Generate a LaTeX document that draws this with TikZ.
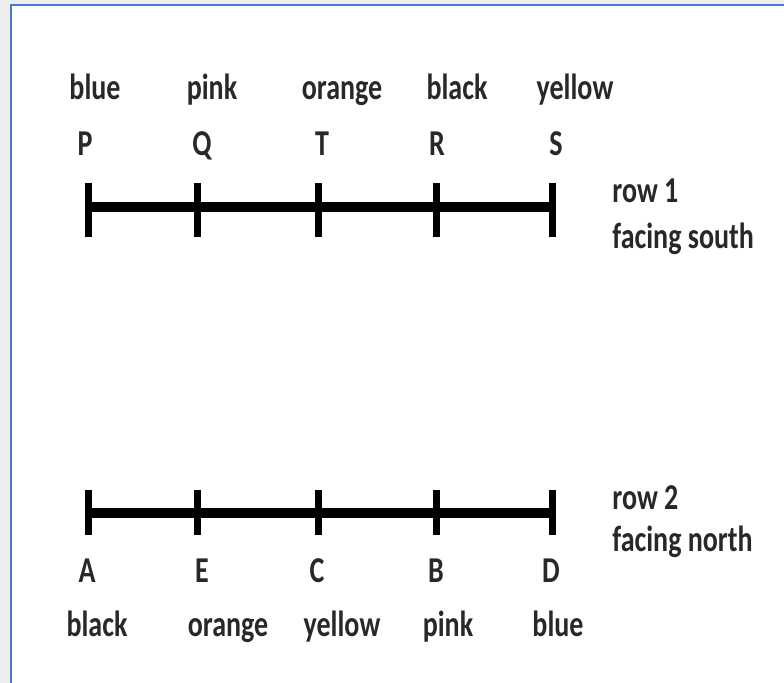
\documentclass[tikz,border=0pt]{standalone}
\usepackage{fontspec}
\setmainfont{Carlito}
\definecolor{framecol}{RGB}{74,123,208}
\definecolor{inkcol}{RGB}{40,40,40}
\newcommand{\tall}[1]{\scalebox{1}[1.3]{#1}}
\tikzset{
    rowline/.style={line width=5pt},
    tickmark/.style={line width=3.5pt},
    lbl/.style={anchor=base,inner sep=0pt,text=inkcol,font=\fontsize{14}{16}\selectfont\bfseries},
    side/.style={lbl,anchor=base west}
}
\begin{document}
\begin{tikzpicture}[x=0.5pt,y=-0.5pt]
        \useasboundingbox (0,0) rectangle (784,683);
        %% Frame
        \fill[black!7] (0,0) rectangle (784,683);
        \fill[white] (11,5) rectangle (784,683);
        \draw[framecol,line width=1pt] (11,683) -- (11,5) -- (784,5);
        %% Seats
        \foreach \x/\i in {88/1,197/2,318/3,436/4,552/5} {
            \coordinate (n\i) at (\x,207);
            \coordinate (s\i) at (\x,513);
            \draw[tickmark] (n\i) ++(0,-24) -- ++(0,54);
            \draw[tickmark] (s\i) ++(0,-23) -- ++(0,45);
        }
        %% Row 1
        \draw[rowline] (n1) -- (n5);
        \node[lbl] (blueP) at (95,100) {\tall{blue}};
        \node[lbl] (pinkQ) at (212,100) {\tall{pink}};
        \node[lbl] (orangeT) at (342,100) {\tall{orange}};
        \node[lbl] (blackR) at (457,100) {\tall{black}};
        \node[lbl] (yellowS) at (575,100) {\tall{yellow}};
        \node[lbl] (P) at (85,156) {\tall{P}};
        \node[lbl] (Q) at (202,156) {\tall{Q}};
        \node[lbl] (T) at (322,156) {\tall{T}};
        \node[lbl] (R) at (437,156) {\tall{R}};
        \node[lbl] (S) at (556,156) {\tall{S}};
        \node[side] (row1) at (612,203) {\tall{row 1}};
        \node[side] (south) at (612,249) {\tall{facing south}};
        %% Row 2
        \draw[rowline] (s1) -- (s5);
        \node[lbl] (A) at (87,583) {\tall{A}};
        \node[lbl] (E) at (202,583) {\tall{E}};
        \node[lbl] (C) at (317,583) {\tall{C}};
        \node[lbl] (B) at (436,583) {\tall{B}};
        \node[lbl] (D) at (551,583) {\tall{D}};
        \node[lbl] (blackA) at (97,637) {\tall{black}};
        \node[lbl] (orangeE) at (228,637) {\tall{orange}};
        \node[lbl] (yellowC) at (342,637) {\tall{yellow}};
        \node[lbl] (pinkB) at (448,637) {\tall{pink}};
        \node[lbl] (blueD) at (558,637) {\tall{blue}};
        \node[side] (row2) at (612,510) {\tall{row 2}};
        \node[side] (north) at (612,552) {\tall{facing north}};
    \end{tikzpicture}
\end{document}
